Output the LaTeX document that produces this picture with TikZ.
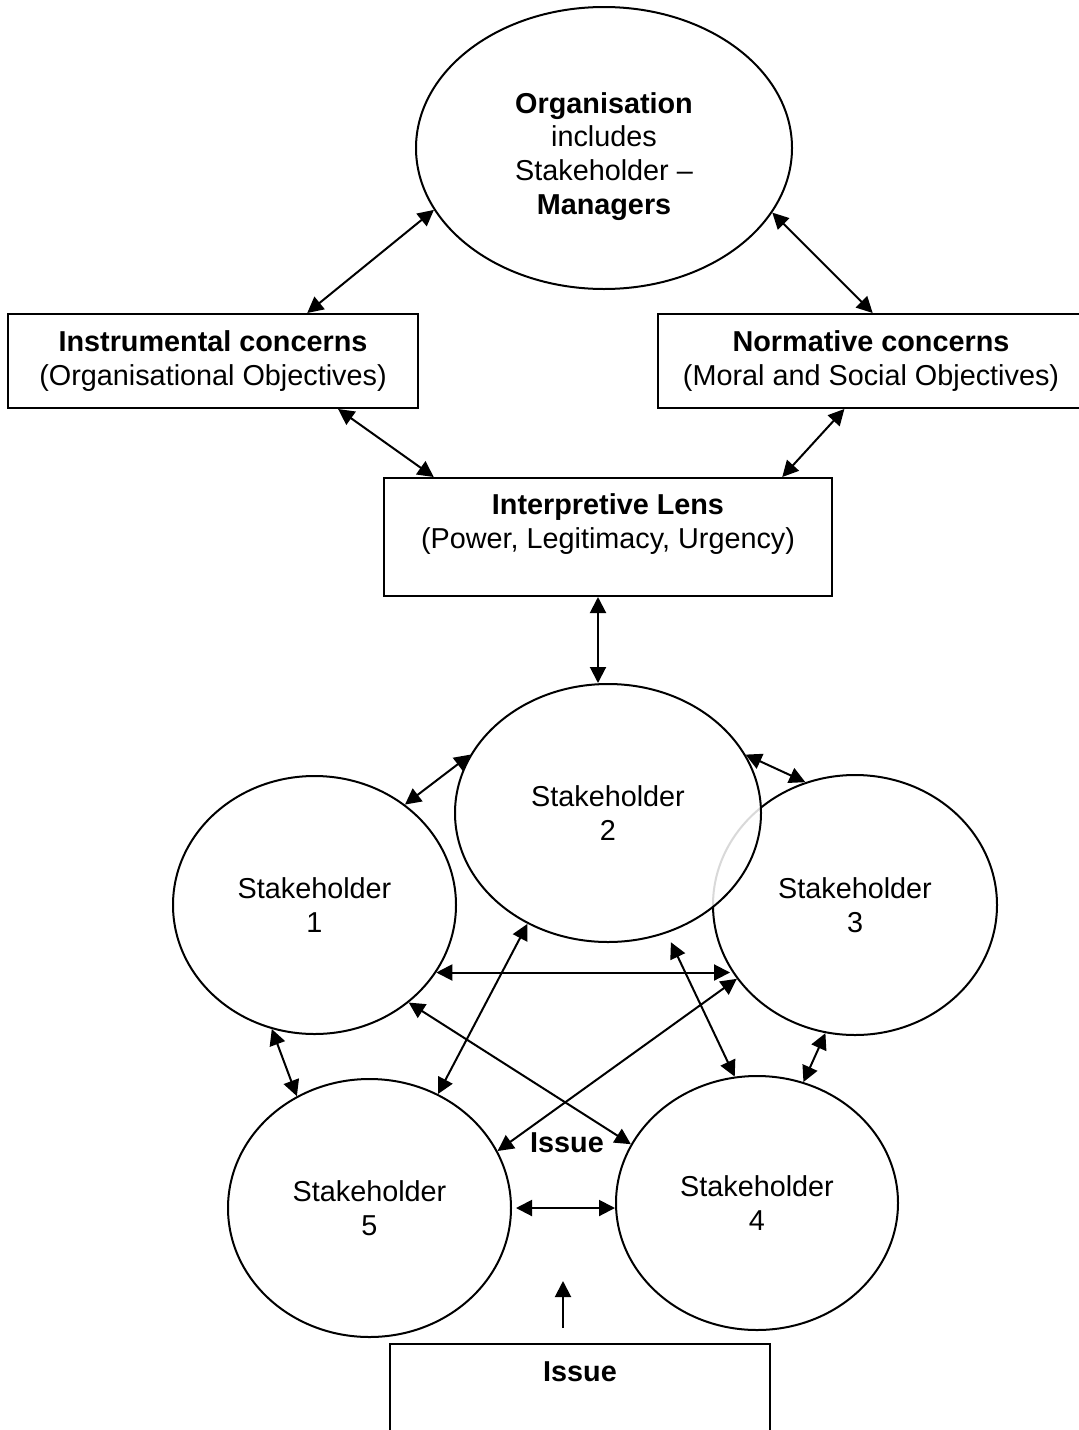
\documentclass[tikz,border=0pt]{standalone}
\usepackage{fontspec}
\setmainfont{Liberation Sans}
\usetikzlibrary{arrows.meta,shapes.geometric,calc}
\begin{document}
\begin{tikzpicture}[x=0.5pt,y=-0.5pt,
  every node/.style={font=\fontsize{14.4}{16.8}\selectfont, align=center},
  ell/.style={ellipse, draw, line width=1pt, inner sep=0pt, fill=white},
  box/.style={rectangle, draw, line width=1pt, inner sep=0pt, fill=white},
  dbl/.style={{Triangle[length=8pt,width=8pt]}-{Triangle[length=8pt,width=8pt]}, line width=1pt},
  one/.style={-{Triangle[length=8pt,width=8pt]}, line width=1pt}]
\useasboundingbox (0,0) rectangle (1079,1430);

% top
\node[ell, minimum width=188pt, minimum height=141pt] (org) at (604,148)
  {\rule{0pt}{8pt}\\[-6pt]\textbf{Organisation}\\includes\\Stakeholder –\\\textbf{Managers}};
\node[box, minimum width=205pt, minimum height=47pt] (inst) at (213,361)
  {\textbf{Instrumental concerns}\\(Organisational Objectives)};
\node[box, minimum width=213pt, minimum height=47pt] (norm) at (871,361)
  {\textbf{Normative concerns}\\(Moral and Social Objectives)};
\node[box, minimum width=224pt, minimum height=59pt] (lens) at (608,537) {};
\node (lenstext) at (608,524) {\textbf{Interpretive Lens}\\(Power, Legitimacy, Urgency)};

% stakeholders
\node[ell, minimum width=142pt, minimum height=130pt] (s3) at (855,905) {Stakeholder\\3};
\node[ell, fill opacity=0.85, text opacity=1, minimum width=153pt, minimum height=129pt] (s2) at (608,813) {Stakeholder\\2};
\node[ell, minimum width=141.5pt, minimum height=129pt] (s1) at (314.5,905) {Stakeholder\\1};
\node[ell, minimum width=141pt, minimum height=127pt] (s4) at (757,1203) {Stakeholder\\4};
\node[ell, minimum width=141.5pt, minimum height=129pt] (s5) at (369.5,1208) {Stakeholder\\5};

\node (issuelbl) at (567,1143) {\textbf{Issue}};

% issue box
\node[box, minimum width=190pt, minimum height=60pt, anchor=north] (issue) at (580,1343) {};
\node (issuetext) at (580,1372) {\textbf{Issue}};

% connectors
\draw[dbl] (inst.27) -- (org.200);
\draw[dbl] (org.339) -- (norm.88);
\draw[dbl] (inst.339.7) -- (lens.161.5);
\draw[dbl] (norm.241) -- (lens.19.5);
\draw[dbl] ($(lens.south)+(-10,0)$) -- ($(s2.north)+(-10,0)$);
\draw[dbl] (s2.157.6) -- (s1.48.6);
\draw[dbl] (s2.23.3) -- (s3.112.2);
\draw[dbl] (s1.331.6) -- (s1.331.6 -| s3.207.1);
\draw[dbl] (s1.314.6) -- (s4.155.9);
\draw[dbl] (s2.234) -- (s5.59.2);
\draw[dbl] (s3.212) -- (s5.24.6);
\draw[dbl, shorten <=5pt] (s2.296.4) -- (s4.100.8);
\draw[dbl] (s1.251.9) -- (s5.123);
\draw[dbl] (s3.257.6) -- (s4.69);
\draw[dbl, shorten <=2pt] (s5.east) -- (s5.east -| s4.west);
\coordinate (issuetip) at (563,1281);
\draw[one] ($(issue.north)+(-17,-15)$) -- (issuetip);
\end{tikzpicture}
\end{document}
